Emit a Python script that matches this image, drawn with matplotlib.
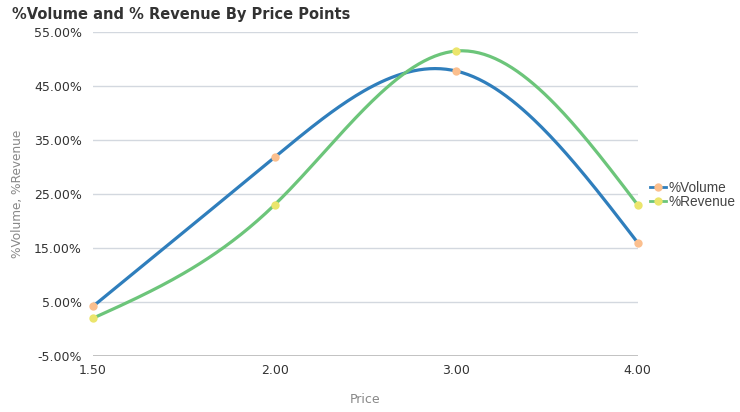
import numpy as np
import matplotlib.pyplot as plt
from matplotlib.lines import Line2D
from matplotlib.ticker import FuncFormatter

price_labels = ['1.50', '2.00', '3.00', '4.00']
volume_pct = [4.2, 31.8, 47.8, 16.0]
revenue_pct = [2.0, 23.0, 51.5, 23.0]

blue, green = '#2f7ebc', '#6cc57a'
peach, yellow = '#fbbf8e', '#ebe56c'


def natural_spline(y, n=200):
    # natural cubic spline through equally spaced category positions
    y = np.asarray(y, float)
    k = len(y)
    A = np.zeros((k, k))
    b = np.zeros(k)
    A[0, 0] = A[-1, -1] = 1
    for i in range(1, k - 1):
        A[i, i - 1:i + 2] = [1, 4, 1]
        b[i] = 6 * (y[i - 1] - 2 * y[i] + y[i + 1])
    M = np.linalg.solve(A, b)
    xs = np.linspace(0, k - 1, n)
    i = np.minimum(xs.astype(int), k - 2)
    t = xs - i
    ys = ((1 - t) * y[i] + t * y[i + 1]
          + ((1 - t) ** 3 - (1 - t)) * M[i] / 6 + (t ** 3 - t) * M[i + 1] / 6)
    return xs, ys


fig = plt.figure(figsize=(7.4, 4.12), dpi=100)
ax = fig.add_axes([0.1257, 0.136, 0.736, 0.786])

x = np.arange(len(price_labels))
for vals, lc, mc in [(volume_pct, blue, peach), (revenue_pct, green, yellow)]:
    xs, ys = natural_spline(vals)
    ax.plot(xs, ys, color=lc, lw=2.3, solid_capstyle='round', zorder=3)
    ax.plot(x, vals, 'o', color=mc, ms=6, mec='none', zorder=4, clip_on=False)

ax.set_xlim(0, 3)
ax.set_ylim(-5, 55)
ax.set_yticks(np.arange(-5, 56, 10))
ax.yaxis.set_major_formatter(FuncFormatter(lambda v, p: f'{v:.2f}%'))
ax.set_xticks(x)
ax.set_xticklabels(price_labels)
ax.grid(axis='y', color='#d3d8df', lw=1)
ax.axhline(-5, color='#bdbdbd', lw=2, zorder=2)
for s in ax.spines.values():
    s.set_visible(False)
ax.tick_params(axis='both', length=0, labelsize=9, colors='#333333')
ax.tick_params(axis='y', pad=8)
ax.tick_params(axis='x', pad=6)

ax.set_xlabel('Price', color='#888888', fontsize=9, labelpad=11)
ax.set_ylabel('%Volume, %Revenue', color='#888888', fontsize=8.7, labelpad=7)

fig.text(0.016, 0.965, '%Volume and % Revenue By Price Points',
         fontsize=10.5, fontweight='bold', color='#333333', va='center')

handles = [Line2D([], [], color=blue, lw=2, marker='o', ms=6, mfc=peach, mec='none'),
           Line2D([], [], color=green, lw=2, marker='o', ms=6, mfc=yellow, mec='none')]
fig.legend(handles, ['%Volume', '%Revenue'], loc='center left',
           bbox_to_anchor=(0.879, 0.527), frameon=False,
           prop={'family': 'Liberation Sans', 'size': 9.8},
           handlelength=1.15, handletextpad=0.2, labelspacing=0.0,
           labelcolor='#444444', borderaxespad=0, borderpad=0)

fig.savefig('out.png', dpi=100)
